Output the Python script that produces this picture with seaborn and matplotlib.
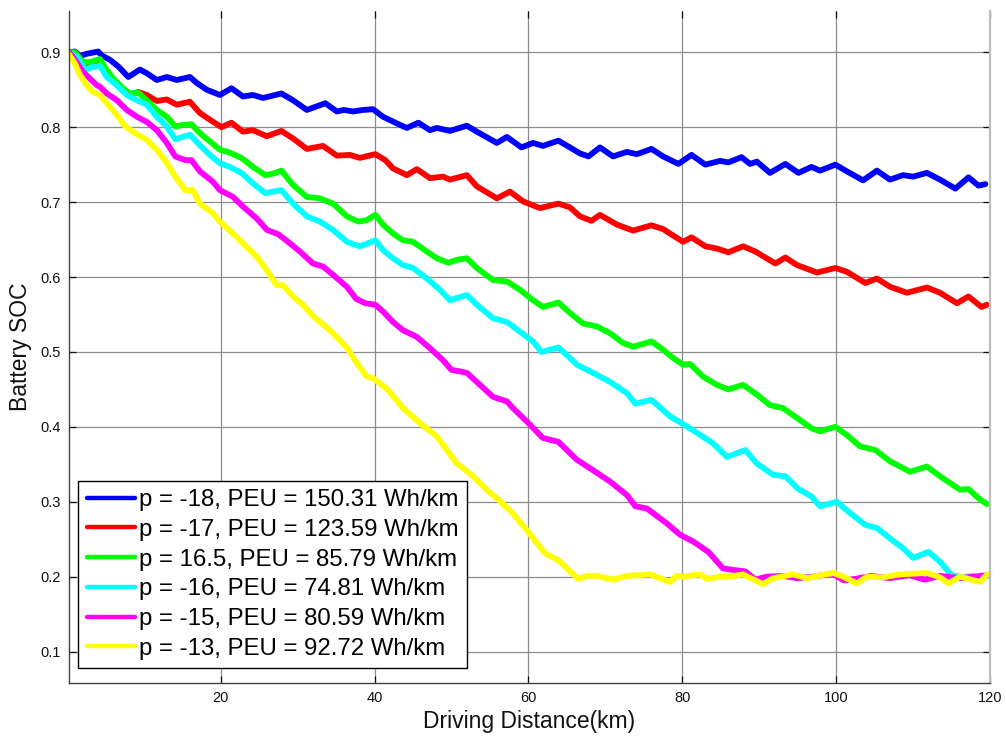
import matplotlib
matplotlib.use("Agg")
import matplotlib.pyplot as plt
import seaborn as sns
import pandas as pd

# ---- data: driving distance (km) and battery state of charge per control setting ----
labels = [
    "p = -18, PEU = 150.31 Wh/km",
    "p = -17, PEU = 123.59 Wh/km",
    "p = 16.5, PEU = 85.79 Wh/km",
    "p = -16, PEU = 74.81 Wh/km",
    "p = -15, PEU = 80.59 Wh/km",
    "p = -13, PEU = 92.72 Wh/km",
]
colors = ["#0000ff", "#ff0000", "#00ff00", "#00ffff", "#ff00ff", "#ffff00"]

blue_km = [0.3, 1.06, 1.7, 2.6, 4.1, 4.5, 5.6, 6.7, 8.0, 9.5,
           10.4, 11.7, 13.0, 14.3, 16.0, 16.9, 18.2, 19.9, 21.4, 22.9,
           24.2, 25.5, 27.9, 29.4, 31.2, 33.6, 35.1, 36.0, 37.2, 38.5,
           39.8, 41.1, 42.9, 44.2, 45.7, 47.2, 48.1, 49.8, 52.0, 53.3,
           55.9, 57.2, 59.1, 60.6, 61.9, 63.9, 65.4, 66.7, 67.8, 69.3,
           71.0, 72.8, 74.1, 76.0, 77.5, 79.5, 81.2, 83.0, 84.9, 86.0,
           87.7, 88.8, 89.7, 91.4, 93.4, 95.1, 96.8, 97.9, 99.9, 101.4,
           103.5, 105.3, 107.0, 108.7, 110.0, 111.8, 113.5, 115.5, 117.2, 118.5,
           119.4]
blue_soc = [0.900, 0.901, 0.895, 0.898, 0.901, 0.896, 0.890, 0.881, 0.867, 0.877,
            0.872, 0.863, 0.867, 0.863, 0.867, 0.859, 0.850, 0.843, 0.852, 0.841,
            0.843, 0.839, 0.845, 0.836, 0.823, 0.832, 0.821, 0.823, 0.821, 0.823,
            0.824, 0.814, 0.805, 0.799, 0.806, 0.796, 0.799, 0.795, 0.802, 0.794,
            0.779, 0.787, 0.773, 0.779, 0.775, 0.782, 0.773, 0.765, 0.761, 0.773,
            0.761, 0.767, 0.764, 0.771, 0.761, 0.751, 0.763, 0.750, 0.755, 0.753,
            0.760, 0.751, 0.754, 0.739, 0.751, 0.739, 0.747, 0.742, 0.750, 0.741,
            0.729, 0.742, 0.730, 0.736, 0.734, 0.739, 0.730, 0.718, 0.733, 0.722,
            0.724]

red_km = [0.3, 1.06, 2.1, 3.0, 4.3, 5.0, 6.0, 7.3, 8.0, 9.3,
          10.4, 11.7, 13.0, 14.3, 16.0, 17.3, 18.6, 20.1, 21.4, 22.9,
          24.2, 26.0, 27.9, 29.4, 31.2, 33.3, 35.1, 36.8, 38.1, 40.1,
          41.4, 42.4, 44.2, 45.5, 47.2, 48.9, 49.8, 52.0, 53.3, 55.9,
          57.6, 59.3, 61.5, 63.9, 65.4, 66.7, 68.2, 69.3, 71.5, 73.6,
          76.0, 77.5, 80.1, 81.2, 83.0, 84.5, 86.0, 87.9, 89.5, 92.1,
          93.4, 94.9, 97.5, 99.9, 101.4, 103.8, 105.3, 107.0, 109.2, 111.8,
          113.5, 115.7, 117.2, 118.9, 119.6]
red_soc = [0.900, 0.899, 0.885, 0.884, 0.888, 0.878, 0.864, 0.851, 0.843, 0.847,
           0.843, 0.835, 0.837, 0.830, 0.834, 0.819, 0.810, 0.800, 0.806, 0.794,
           0.796, 0.788, 0.795, 0.785, 0.771, 0.775, 0.762, 0.763, 0.759, 0.764,
           0.756, 0.745, 0.736, 0.744, 0.732, 0.734, 0.730, 0.736, 0.721, 0.705,
           0.714, 0.701, 0.692, 0.698, 0.693, 0.681, 0.675, 0.683, 0.670, 0.662,
           0.669, 0.664, 0.647, 0.653, 0.641, 0.638, 0.633, 0.641, 0.634, 0.618,
           0.626, 0.616, 0.606, 0.612, 0.607, 0.592, 0.598, 0.587, 0.579, 0.586,
           0.579, 0.565, 0.574, 0.560, 0.563]

green_km = [0.3, 1.06, 2.1, 3.0, 4.3, 5.0, 6.0, 7.3, 8.2, 9.3,
            10.4, 11.7, 13.0, 14.1, 15.1, 16.2, 17.3, 18.6, 19.9, 21.2,
            22.7, 24.2, 25.8, 26.8, 27.9, 29.4, 31.2, 32.9, 34.6, 36.4,
            37.9, 39.0, 40.1, 41.1, 42.4, 43.7, 45.0, 46.8, 48.1, 49.6,
            50.7, 52.0, 53.3, 55.4, 57.2, 58.9, 60.6, 61.9, 63.9, 65.4,
            67.1, 68.9, 70.6, 72.3, 73.6, 76.0, 77.5, 78.8, 80.1, 81.0,
            82.7, 84.5, 86.0, 87.9, 89.7, 91.4, 93.1, 94.9, 96.8, 97.9,
            99.9, 101.4, 103.1, 105.1, 107.0, 109.6, 111.8, 113.5, 116.1, 117.2,
            118.7, 119.6]
green_soc = [0.900, 0.900, 0.887, 0.887, 0.891, 0.879, 0.865, 0.852, 0.845, 0.846,
             0.836, 0.823, 0.814, 0.801, 0.803, 0.804, 0.792, 0.781, 0.770, 0.766,
             0.759, 0.747, 0.736, 0.738, 0.742, 0.723, 0.707, 0.705, 0.698, 0.681,
             0.674, 0.676, 0.683, 0.670, 0.658, 0.649, 0.647, 0.634, 0.625, 0.619,
             0.623, 0.625, 0.612, 0.596, 0.594, 0.583, 0.569, 0.560, 0.566, 0.552,
             0.538, 0.534, 0.525, 0.512, 0.507, 0.514, 0.503, 0.492, 0.483, 0.484,
             0.467, 0.456, 0.450, 0.456, 0.443, 0.429, 0.425, 0.412, 0.398, 0.394,
             0.400, 0.389, 0.374, 0.369, 0.354, 0.340, 0.347, 0.334, 0.316, 0.317,
             0.303, 0.297]

cyan_km = [0.3, 1.3, 2.4, 3.2, 4.3, 5.2, 6.5, 7.8, 9.1, 10.4,
           11.7, 13.0, 14.1, 15.1, 16.0, 17.3, 18.6, 19.9, 21.2, 22.7,
           24.2, 25.8, 26.8, 27.9, 29.4, 31.2, 32.9, 34.6, 36.4, 38.1,
           40.1, 41.1, 42.4, 43.7, 45.0, 46.8, 48.5, 49.8, 50.7, 52.0,
           53.3, 55.4, 57.2, 58.9, 60.6, 61.7, 63.9, 65.4, 66.3, 68.4,
           70.6, 72.8, 73.9, 76.0, 78.4, 79.9, 81.9, 84.0, 85.8, 88.2,
           89.7, 91.8, 93.4, 95.1, 96.8, 97.9, 100.1, 101.8, 103.8, 105.3,
           107.0, 108.7, 110.0, 112.0, 113.5, 115.0, 116.5, 117.8, 118.8, 119.6]
cyan_soc = [0.900, 0.894, 0.877, 0.880, 0.882, 0.867, 0.856, 0.843, 0.836, 0.830,
            0.814, 0.801, 0.784, 0.787, 0.790, 0.776, 0.763, 0.752, 0.747, 0.739,
            0.725, 0.712, 0.714, 0.716, 0.698, 0.681, 0.674, 0.663, 0.647, 0.641,
            0.649, 0.636, 0.625, 0.616, 0.612, 0.598, 0.583, 0.569, 0.572, 0.576,
            0.563, 0.545, 0.540, 0.527, 0.514, 0.500, 0.506, 0.492, 0.483, 0.472,
            0.460, 0.445, 0.431, 0.436, 0.414, 0.405, 0.392, 0.378, 0.360, 0.369,
            0.351, 0.336, 0.334, 0.317, 0.307, 0.294, 0.300, 0.285, 0.269, 0.265,
            0.251, 0.238, 0.225, 0.233, 0.220, 0.202, 0.199, 0.201, 0.198, 0.201]

magenta_km = [0.3, 1.06, 2.1, 3.0, 3.9, 4.3, 5.2, 6.5, 7.8, 9.1,
              10.4, 11.7, 13.0, 14.1, 15.4, 16.2, 17.3, 19.0, 19.9, 21.6,
              22.9, 24.7, 26.0, 27.5, 29.0, 30.3, 32.0, 33.3, 34.6, 36.4,
              37.6, 38.8, 40.1, 41.1, 42.4, 43.7, 45.5, 47.2, 48.9, 50.0,
              51.1, 52.0, 53.5, 55.4, 57.2, 58.0, 59.8, 61.9, 63.9, 66.3,
              68.4, 70.6, 72.8, 73.9, 75.4, 78.0, 79.7, 81.4, 83.4, 85.3,
              86.6, 88.2, 89.5, 91.0, 93.0, 95.0, 97.0, 99.5, 101.0, 102.5,
              104.5, 107.0, 109.5, 111.5, 113.5, 116.0, 118.0, 119.6]
magenta_soc = [0.900, 0.890, 0.874, 0.865, 0.856, 0.854, 0.845, 0.836, 0.823, 0.814,
               0.807, 0.796, 0.779, 0.761, 0.756, 0.756, 0.741, 0.727, 0.716, 0.707,
               0.694, 0.678, 0.663, 0.657, 0.645, 0.634, 0.618, 0.614, 0.603, 0.587,
               0.571, 0.565, 0.563, 0.554, 0.540, 0.529, 0.520, 0.505, 0.489, 0.476,
               0.474, 0.472, 0.458, 0.440, 0.434, 0.425, 0.407, 0.385, 0.380, 0.356,
               0.342, 0.327, 0.309, 0.294, 0.291, 0.271, 0.256, 0.247, 0.233, 0.211,
               0.209, 0.207, 0.196, 0.200, 0.201, 0.198, 0.200, 0.204, 0.195, 0.197,
               0.201, 0.198, 0.202, 0.196, 0.201, 0.198, 0.200, 0.202]

yellow_km = [0.3, 1.06, 1.7, 2.6, 3.4, 4.3, 5.2, 6.3, 7.6, 8.9,
             10.4, 11.7, 13.0, 14.1, 15.4, 16.4, 17.3, 19.0, 19.9, 21.6,
             22.9, 24.7, 26.0, 27.3, 28.1, 29.4, 30.7, 32.0, 34.2, 36.4,
             37.7, 39.0, 39.8, 41.6, 43.7, 45.9, 48.1, 49.4, 50.7, 51.5,
             52.8, 54.6, 56.3, 58.0, 59.8, 61.1, 62.2, 63.9, 65.0, 66.5,
             67.6, 68.9, 71.0, 72.8, 75.8, 78.4, 79.3, 80.1, 82.3, 83.2,
             84.9, 86.6, 87.9, 90.5, 91.8, 94.4, 96.2, 99.6, 100.9, 102.7,
             104.0, 106.0, 108.3, 111.8, 113.5, 114.6, 116.1, 118.7, 119.6]
yellow_soc = [0.897, 0.885, 0.870, 0.856, 0.847, 0.843, 0.832, 0.819, 0.801, 0.792,
              0.783, 0.770, 0.752, 0.734, 0.716, 0.716, 0.698, 0.685, 0.674, 0.658,
              0.645, 0.627, 0.609, 0.589, 0.589, 0.574, 0.563, 0.548, 0.529, 0.506,
              0.485, 0.467, 0.465, 0.451, 0.425, 0.405, 0.387, 0.369, 0.351, 0.345,
              0.334, 0.316, 0.301, 0.284, 0.262, 0.245, 0.231, 0.222, 0.211, 0.197,
              0.201, 0.201, 0.196, 0.201, 0.203, 0.193, 0.201, 0.200, 0.203, 0.197,
              0.200, 0.201, 0.203, 0.190, 0.198, 0.203, 0.198, 0.205, 0.200, 0.191,
              0.200, 0.199, 0.203, 0.205, 0.199, 0.191, 0.200, 0.193, 0.203]

series_km = [blue_km, red_km, green_km, cyan_km, magenta_km, yellow_km]
series_soc = [blue_soc, red_soc, green_soc, cyan_soc, magenta_soc, yellow_soc]

x_ticks = [20, 40, 60, 80, 100, 120]
y_ticks = [0.1, 0.2, 0.3, 0.4, 0.5, 0.6, 0.7, 0.8, 0.9]

# ---- styling ----
sns.set_theme(style="white")
plt.rcParams["font.family"] = ["Liberation Sans", "DejaVu Sans"]
plt.rcParams["text.color"] = "black"

fig = plt.figure(figsize=(10.06, 7.38), dpi=100)
ax = fig.add_axes([0.0683, 0.0745, 0.9158, 0.911])

for km, soc, col, lab in zip(series_km, series_soc, colors, labels):
    df = pd.DataFrame({"km": km, "soc": soc})
    sns.lineplot(data=df, x="km", y="soc", color=col, lw=4.2, label=lab,
                 sort=False, estimator=None, ax=ax, solid_joinstyle="round",
                 solid_capstyle="round")

ax.set_xlim(0.25, 120)
ax.set_ylim(0.058, 0.9555)
ax.set_xticks(x_ticks)
ax.set_yticks(y_ticks)
ax.set_xticklabels([str(t) for t in x_ticks])
ax.set_yticklabels([f"{t:.1f}" for t in y_ticks])

ax.grid(True, color="#8c8c8c", lw=0.9)
ax.set_axisbelow(True)

ax.tick_params(axis="both", which="major", direction="in", length=5, width=0.9,
               labelsize=10.5, colors="#111111", top=True, right=True,
               bottom=True, left=True, pad=6)
for side in ("left", "bottom"):
    ax.spines[side].set_color("#404040")
    ax.spines[side].set_linewidth(1.0)
ax.spines["top"].set_visible(False)
ax.spines["right"].set_color("#bdbdbd")
ax.spines["right"].set_linewidth(1.6)

ax.set_xlabel("Driving Distance(km)", fontsize=16.5, color="#111111", labelpad=3)
ax.set_ylabel("Battery SOC", fontsize=16.5, color="#111111", labelpad=6)

leg = ax.legend(loc="lower left", bbox_to_anchor=(0.0104, 0.0219),
                borderaxespad=0, fontsize=17.3, frameon=True, fancybox=False,
                framealpha=1, edgecolor="black", handlelength=2.0,
                handletextpad=0.17, labelspacing=0.32, borderpad=0.36)
leg.get_frame().set_linewidth(1.0)
for t in leg.get_texts():
    t.set_color("black")
for h in leg.get_lines():
    h.set_linewidth(3.2)

fig.savefig("out.png", dpi=100)
